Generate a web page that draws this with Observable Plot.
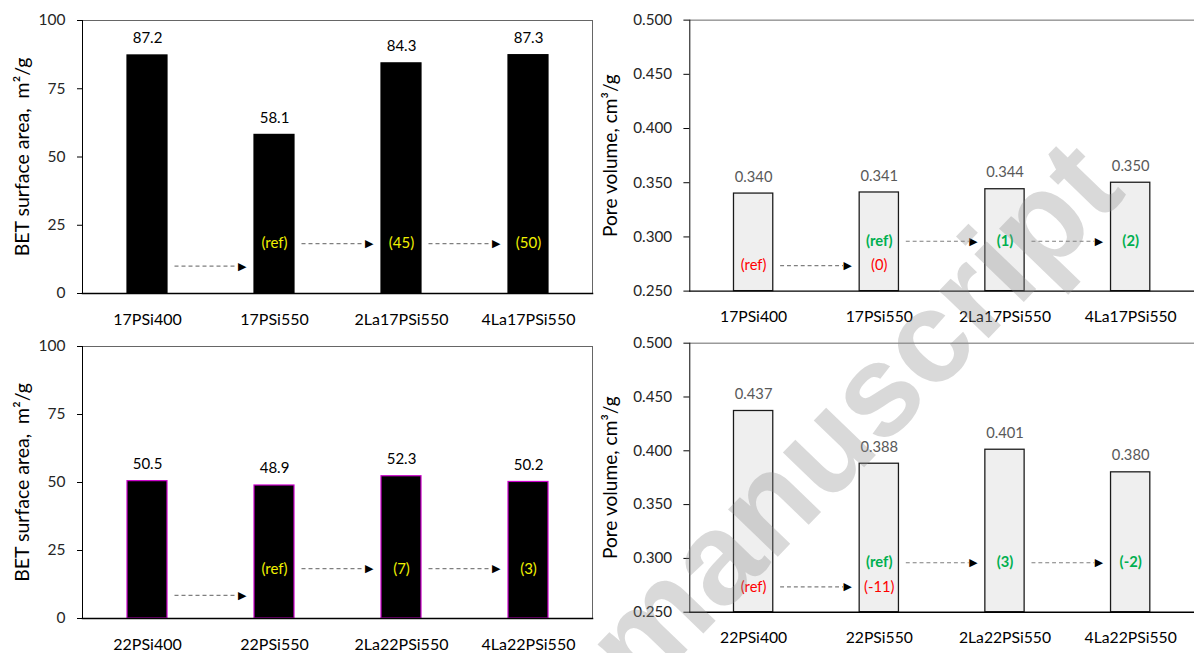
<!DOCTYPE html>
<html><head><meta charset="utf-8">
<script src="https://cdn.jsdelivr.net/npm/d3@7"></script>
<script src="https://cdn.jsdelivr.net/npm/@observablehq/plot@0.6"></script>
<style>
html,body{margin:0;padding:0;background:#fff;}
#wrap{position:relative;width:1194px;height:653px;overflow:hidden;}
.panel{position:absolute;}
#wm{position:absolute;left:852px;top:415px;transform:translate(-50%,-50%) rotate(-46deg);font:bold 130px "Liberation Sans",sans-serif;color:rgba(140,140,140,0.33);white-space:nowrap;pointer-events:none;}
</style></head><body>
<div id="wrap"><div id="wm">manuscript</div></div>
<script>
// ---- data ----
const cats17 = ["17PSi400", "17PSi550", "2La17PSi550", "4La17PSi550"];
const cats22 = ["22PSi400", "22PSi550", "2La22PSi550", "4La22PSi550"];
const bet17 = [87.2, 58.1, 84.3, 87.3];
const bet22 = [50.5, 48.9, 52.3, 50.2];
const pore17 = [0.340, 0.341, 0.344, 0.350];
const pore22 = [0.437, 0.388, 0.401, 0.380];
const betNotes17 = ["", "(ref)", "(45)", "(50)"];
const betNotes22 = ["", "(ref)", "(7)", "(3)"];
const poreRed17 = ["(ref)", "(0)", "", ""];
const poreGreen17 = ["", "(ref)", "(1)", "(2)"];
const poreRed22 = ["(ref)", "(-11)", "", ""];
const poreGreen22 = ["", "(ref)", "(3)", "(-2)"];
const betNoteY = 18.3;
const betLowArrowY17 = 10;
const betLowArrowY22 = 8.5;
const poreRedY = 0.2735;
const poreGreenY = 0.296;
const betTicks = [0, 25, 50, 75, 100];
const poreTicks = [0.25, 0.30, 0.35, 0.40, 0.45, 0.50];
const poreBase = 0.25;
const betTitle = "BET surface area,  m\u00b2/g";
const poreTitle = "Pore volume, cm\u00b3/g";

const FONT = "Lato, 'Open Sans', sans-serif";

function arrowMarks(arrows) {
  return [
    Plot.arrow(arrows, {x1: "from", x2: "to", y1: "y", y2: "y", stroke: "#7f7f7f", strokeWidth: 1.2,
      strokeDasharray: "4,3", headLength: 0, insetStart: 27, insetEnd: 37, strokeLinecap: "butt"}),
    Plot.text(arrows, {x: "to", y: "y", text: () => "\u25B6", textAnchor: "end", dx: -28,
      fontSize: 11, fontFamily: "DejaVu Sans", fill: "#000"})
  ];
}

function betPanel({cats, values, notes, lowY, barStroke, height, marginTop, marginBottom}) {
  const data = cats.map((c, i) => ({cat: c, v: values[i], note: notes[i], ny: betNoteY}));
  const arrows = [
    {from: cats[0], to: cats[1], y: lowY},
    {from: cats[1], to: cats[2], y: betNoteY},
    {from: cats[2], to: cats[3], y: betNoteY}
  ];
  return Plot.plot({
    width: 597, height, marginLeft: 82, marginRight: 5, marginTop, marginBottom,
    style: {fontFamily: FONT, fontSize: "15px", color: "#000", background: "transparent", overflow: "visible"},
    x: {domain: cats, paddingInner: 0.686, paddingOuter: 0.343, label: null},
    y: {domain: [0, 100], label: null},
    marks: [
      Plot.barY(data, {x: "cat", y: "v", fill: "#000", stroke: barStroke, strokeWidth: 1.2}),
      Plot.frame({anchor: "top", stroke: "#666"}),
      Plot.frame({anchor: "right", stroke: "#666"}),
      Plot.frame({anchor: "left", stroke: "#000"}),
      Plot.frame({anchor: "bottom", stroke: "#000", strokeWidth: 1.5}),
      Plot.axisY({ticks: betTicks, tickSize: 5, tickPadding: 12, label: null, fontSize: 15.5, fill: "#262626"}),
      Plot.axisX({tickSize: 0, tickPadding: 20, label: null, fontSize: 16, fill: "#000"}),
      Plot.text(data, {x: "cat", y: "v", text: d => d.v.toFixed(1), dy: -17, fontSize: 15, fill: "#000"}),
      Plot.text(data.filter(d => d.note), {x: "cat", y: "ny", text: "note", fill: "#f0f000", fontSize: 15}),
      ...arrowMarks(arrows),
      Plot.text([betTitle], {frameAnchor: "left", textAnchor: "middle", dx: -60, rotate: -90, text: d => d, fontSize: 19.5, fill: "#000"})
    ]
  });
}

function porePanel({cats, values, red, green, height, marginTop, marginBottom}) {
  const data = cats.map((c, i) => ({cat: c, v: values[i], base: poreBase, red: red[i], green: green[i], ry: poreRedY, gy: poreGreenY}));
  const arrows = [
    {from: cats[0], to: cats[1], y: poreRedY},
    {from: cats[1], to: cats[2], y: poreGreenY},
    {from: cats[2], to: cats[3], y: poreGreenY}
  ];
  return Plot.plot({
    width: 608, height, marginLeft: 94, marginRight: 0, marginTop, marginBottom,
    style: {fontFamily: FONT, fontSize: "15px", color: "#000", background: "transparent", overflow: "visible"},
    x: {domain: cats, paddingInner: 0.686, paddingOuter: 0.343, label: null},
    y: {domain: [0.25, 0.5], label: null},
    marks: [
      Plot.barY(data, {x: "cat", y1: "base", y2: "v", fill: "#efefef", stroke: "#1a1a1a", strokeWidth: 1.3}),
      Plot.frame({anchor: "top", stroke: "#666"}),
      Plot.frame({anchor: "left", stroke: "#000"}),
      Plot.frame({anchor: "bottom", stroke: "#000", strokeWidth: 1.5}),
      Plot.axisY({ticks: poreTicks, tickFormat: d3.format(".3f"), tickSize: 6, tickPadding: 12, label: null, fontSize: 15.5, fill: "#262626"}),
      Plot.axisX({tickSize: 0, tickPadding: 20, label: null, fontSize: 16, fill: "#000"}),
      Plot.text(data, {x: "cat", y: "v", text: d => d.v.toFixed(3), dy: -17, fontSize: 15, fill: "#595959"}),
      Plot.text(data.filter(d => d.red), {x: "cat", y: "ry", text: "red", fill: "#ff0000", fontSize: 15}),
      Plot.text(data.filter(d => d.green), {x: "cat", y: "gy", text: "green", fill: "#00b050", fontSize: 15, fontWeight: "bold"}),
      ...arrowMarks(arrows),
      Plot.text([poreTitle], {frameAnchor: "left", textAnchor: "middle", dx: -80, rotate: -90, text: d => d, fontSize: 19.5, fill: "#000"})
    ]
  });
}

const wrap = document.getElementById("wrap");
function place(el, left, top) {
  const d = document.createElement("div");
  d.className = "panel";
  d.style.left = left + "px";
  d.style.top = top + "px";
  d.appendChild(el);
  wrap.insertBefore(d, document.getElementById("wm"));
}

place(betPanel({cats: cats17, values: bet17, notes: betNotes17, lowY: betLowArrowY17, barStroke: "#000",
  height: 330, marginTop: 20, marginBottom: 37}), 0, 0);
place(betPanel({cats: cats22, values: bet22, notes: betNotes22, lowY: betLowArrowY22, barStroke: "#cc00cc",
  height: 327, marginTop: 20, marginBottom: 35}), 0, 326);
place(porePanel({cats: cats17, values: pore17, red: poreRed17, green: poreGreen17,
  height: 330, marginTop: 20, marginBottom: 34}), 597, 0);
place(porePanel({cats: cats22, values: pore22, red: poreRed22, green: poreGreen22,
  height: 327, marginTop: 17, marginBottom: 36}), 597, 326);
</script>
</body></html>
